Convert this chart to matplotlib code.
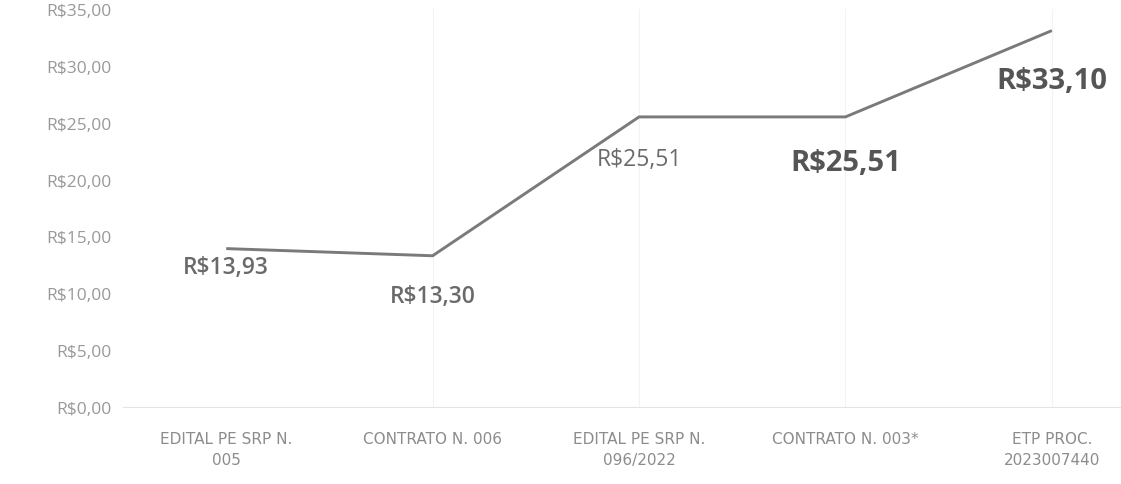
import matplotlib
matplotlib.use("Agg")
import matplotlib.pyplot as plt

# dados
categorias = ["EDITAL PE SRP N.\n005", "CONTRATO N. 006", "EDITAL PE SRP N.\n096/2022",
              "CONTRATO N. 003*", "ETP PROC.\n2023007440"]
valores = [13.93, 13.30, 25.51, 25.51, 33.10]
rotulos = ["R$13,93", "R$13,30", "R$25,51", "R$25,51", "R$33,10"]
yticks = [0, 5, 10, 15, 20, 25, 30, 35]


def moeda(v):
    return "R$" + ("%.2f" % v).replace(".", ",")


def main():
    fig = plt.figure(figsize=(11.21, 4.85), dpi=100)
    ax = fig.add_axes([123 / 1121, 77 / 485, 1 - 123 / 1121, 398 / 485])

    x = list(range(len(valores)))
    ax.plot(x, valores, color="#7a7a7a", linewidth=2.1, solid_capstyle="butt")

    ax.set_xlim(-0.5, 4.335)
    ax.set_ylim(0, 35)
    ax.set_yticks(yticks)
    ax.set_yticklabels([moeda(v) for v in yticks], fontsize=12.5, color="#999999",
                       family="Open Sans")
    ax.set_xticks(x)
    ax.set_xticklabels(categorias, fontsize=11, color="#8c8c8c", family="Liberation Sans Narrow",
                       linespacing=1.55)
    ax.tick_params(length=0)
    ax.tick_params(axis="x", pad=17)
    ax.tick_params(axis="y", pad=8)

    for s in ["top", "right", "left"]:
        ax.spines[s].set_visible(False)
    ax.spines["bottom"].set_color("#e4e4e4")

    # linhas verticais bem claras
    for xi in x[1:]:
        ax.axvline(xi, color="#f3f3f3", linewidth=0.8, zorder=0)

    # rotulos de dados
    ax.text(0, 12.3, rotulos[0], ha="center", va="center", fontsize=16.5, color="#6a6a6a",
            family="Open Sans", fontweight="semibold")
    ax.text(1, 9.8, rotulos[1], ha="center", va="center", fontsize=16.5, color="#6a6a6a",
            family="Open Sans", fontweight="semibold")
    ax.text(2, 21.8, rotulos[2], ha="center", va="center", fontsize=16.5, color="#6a6a6a",
            family="Open Sans")
    ax.text(3, 21.5, rotulos[3], ha="center", va="center", fontsize=21, color="#555555",
            family="Open Sans", fontweight="bold")
    ax.text(4.0, 28.7, rotulos[4], ha="center", va="center", fontsize=21, color="#555555",
            family="Open Sans", fontweight="bold")

    fig.savefig("out.png", dpi=100)


if __name__ == "__main__":
    main()
